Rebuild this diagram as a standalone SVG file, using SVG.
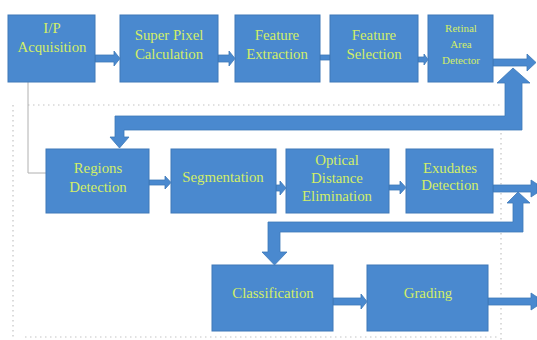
<svg xmlns="http://www.w3.org/2000/svg" width="537" height="340" viewBox="0 0 537 340">
<style>
.box{fill:#4a89cf;stroke:#3e78b8;stroke-width:1}
.arr{fill:#4a89cf;stroke:#3e78b8;stroke-width:0.8}
.t{font-family:"Liberation Serif","Times New Roman",serif;font-size:14.8px;fill:#d2ee68;text-anchor:middle}
.s{font-size:11px}
.dot{fill:none;stroke:#c4c4c4;stroke-width:1.2;stroke-dasharray:1.5 3.5}
.thin{fill:none;stroke:#b0b0b0;stroke-width:1}
</style>
<rect width="537" height="340" fill="#ffffff"/>
<g id="guides">
<path class="dot" d="M13 105 V340"/>
<path class="dot" d="M28 105 H503"/>
<path class="dot" d="M501 133 V340"/>
<path class="dot" d="M25 337 H500"/>
<path class="thin" d="M28 82 V173 H46"/>
</g>
<g id="connectors">
<polygon class="arr" points="95,55 114,55 114,51 120,58.5 114,66 114,62 95,62"/>
<polygon class="arr" points="218,55 229,55 229,51 235,58.5 229,66 229,62 218,62"/>
<rect class="arr" x="320" y="55" width="10" height="5"/>
<polygon class="arr" points="418,57 424,57 424,54 428,59.5 424,65 424,62 418,62"/>
<polygon class="arr" points="493,59 527,59 527,54 536,62.5 527,71 527,66 493,66"/>
<polygon class="arr" points="513,68 530,83 522,83 522,130 124,130 124,137 129,137 119.5,148 110,137 115,137 115,116 505,116 505,83 497,83"/>
<polygon class="arr" points="149,180 165,180 165,176 171,182.5 165,189 165,185 149,185"/>
<polygon class="arr" points="276,185 280,185 280,181 286,188 280,195 280,191 276,191"/>
<polygon class="arr" points="389,185 400,185 400,181 406,187.5 400,194 400,190 389,190"/>
<polygon class="arr" points="493,185 531,185 531,180 537,184 537,193 531,197 531,192 493,192"/>
<polygon class="arr" points="518,192 530,203 523,203 523,232 280,232 280,252 287,252 274.5,265 262,252 268,252 268,222 513,222 513,203 507,203"/>
<polygon class="arr" points="333,298 361,298 361,294 367,301.5 361,309 361,305 333,305"/>
<polygon class="arr" points="488,298 531,298 531,293 537,297 537,306 531,310 531,305 488,305"/>
</g>
<g id="n1"><rect class="box" x="8" y="15" width="87" height="67"/><text class="t" x="52" y="33">I/P</text><text class="t" x="52" y="52">Acquisition</text></g>
<g id="n2"><rect class="box" x="120" y="15" width="98" height="67"/><text class="t" x="169" y="40">Super Pixel</text><text class="t" x="169" y="59">Calculation</text></g>
<g id="n3"><rect class="box" x="235" y="15" width="85" height="67"/><text class="t" x="277" y="40">Feature</text><text class="t" x="277" y="59">Extraction</text></g>
<g id="n4"><rect class="box" x="330" y="15" width="88" height="67"/><text class="t" x="374" y="40">Feature</text><text class="t" x="374" y="59">Selection</text></g>
<g id="n5"><rect class="box" x="428" y="15" width="65" height="67"/><text class="t s" x="461" y="32">Retinal</text><text class="t s" x="461" y="48">Area</text><text class="t s" x="461" y="64">Detector</text></g>
<g id="n6"><rect class="box" x="46" y="149" width="103" height="64"/><text class="t" x="98" y="173">Regions</text><text class="t" x="98" y="192">Detection</text></g>
<g id="n7"><rect class="box" x="171" y="149" width="105" height="64"/><text class="t" x="223" y="182">Segmentation</text></g>
<g id="n8"><rect class="box" x="286" y="149" width="103" height="64"/><text class="t" x="337" y="165">Optical</text><text class="t" x="337" y="183">Distance</text><text class="t" x="337" y="201">Elimination</text></g>
<g id="n9"><rect class="box" x="406" y="149" width="87" height="64"/><text class="t" x="450" y="173">Exudates</text><text class="t" x="450" y="190">Detection</text></g>
<g id="n10"><rect class="box" x="212" y="265" width="121" height="66"/><text class="t" x="273" y="298">Classification</text></g>
<g id="n11"><rect class="box" x="367" y="265" width="121" height="66"/><text class="t" x="428" y="298">Grading</text></g>
</svg>
